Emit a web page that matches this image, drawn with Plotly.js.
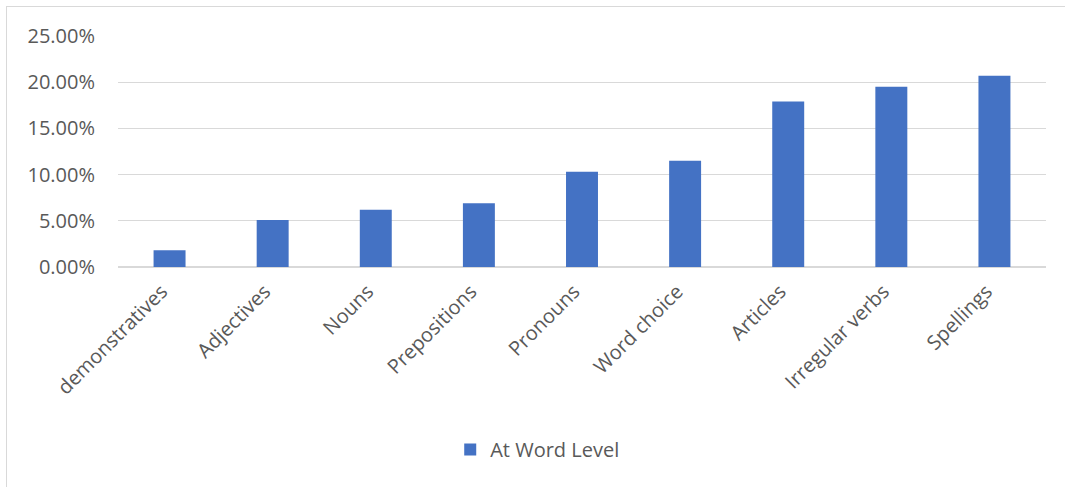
<!DOCTYPE html>
<html>
<head>
<meta charset="utf-8">
<script src="https://cdn.plot.ly/plotly-3.0.1.min.js"></script>
<style>
  html, body { margin: 0; padding: 0; background: #ffffff; }
  #chart { position: absolute; left: 0; top: 0; width: 1065px; height: 487px; }
  #frame { position: absolute; left: 6px; top: 6px; width: 1065px; height: 487px;
           border-left: 1.5px solid #d9d9d9; border-top: 1.5px solid #d9d9d9;
           pointer-events: none; z-index: 10; }
</style>
</head>
<body>
<div id="chart"></div>
<div id="frame"></div>
<script>
const categories = ["demonstratives", "Adjectives", "Nouns", "Prepositions", "Pronouns",
                    "Word choice", "Articles", "Irregular verbs", "Spellings"];
const seriesName = "At Word Level";
const values = [1.8, 5.1, 6.2, 6.9, 10.3, 11.5, 17.9, 19.5, 20.7];
const yTicks = [0, 5, 10, 15, 20, 25];
const yTickLabels = ["0.00%", "5.00%", "10.00%", "15.00%", "20.00%", "25.00%"];

const textColor = "#595959";
const fontFamily = "'Open Sans', 'Noto Sans', sans-serif";

const trace = {
  type: "bar",
  x: categories,
  y: values,
  name: seriesName,
  marker: { color: "#4472c4" },
  hoverinfo: "x+y"
};

const layout = {
  width: 1065,
  height: 487,
  margin: { l: 118, r: 19, t: 36, b: 220, pad: 0 },
  paper_bgcolor: "rgba(0,0,0,0)",
  plot_bgcolor: "#ffffff",
  bargap: 0.69,
  font: { family: fontFamily, size: 20, color: textColor },
  xaxis: {
    type: "category",
    tickangle: -45,
    showgrid: false,
    showline: false,
    ticks: "",
    zeroline: false,
    ticklabelstandoff: 8,
    ticklabelshift: -8,
    tickfont: { family: fontFamily, size: 20, color: textColor }
  },
  yaxis: {
    range: [0, 25],
    tickmode: "array",
    tickvals: yTicks,
    ticktext: yTickLabels,
    showgrid: true,
    gridcolor: "#d9d9d9",
    gridwidth: 1.3,
    zeroline: true,
    zerolinecolor: "#d9d9d9",
    zerolinewidth: 1.3,
    showline: false,
    ticks: "",
    ticklabelstandoff: 22,
    tickfont: { family: fontFamily, size: 20, color: textColor }
  },
  showlegend: true,
  legend: {
    orientation: "h",
    x: 0.358,
    xanchor: "left",
    y: -0.79,
    yanchor: "middle",
    itemwidth: 30,
    font: { family: fontFamily, size: 20, color: textColor },
    bgcolor: "rgba(0,0,0,0)"
  }
};

Plotly.newPlot("chart", [trace], layout, { displayModeBar: false, staticPlot: true });
</script>
</body>
</html>
